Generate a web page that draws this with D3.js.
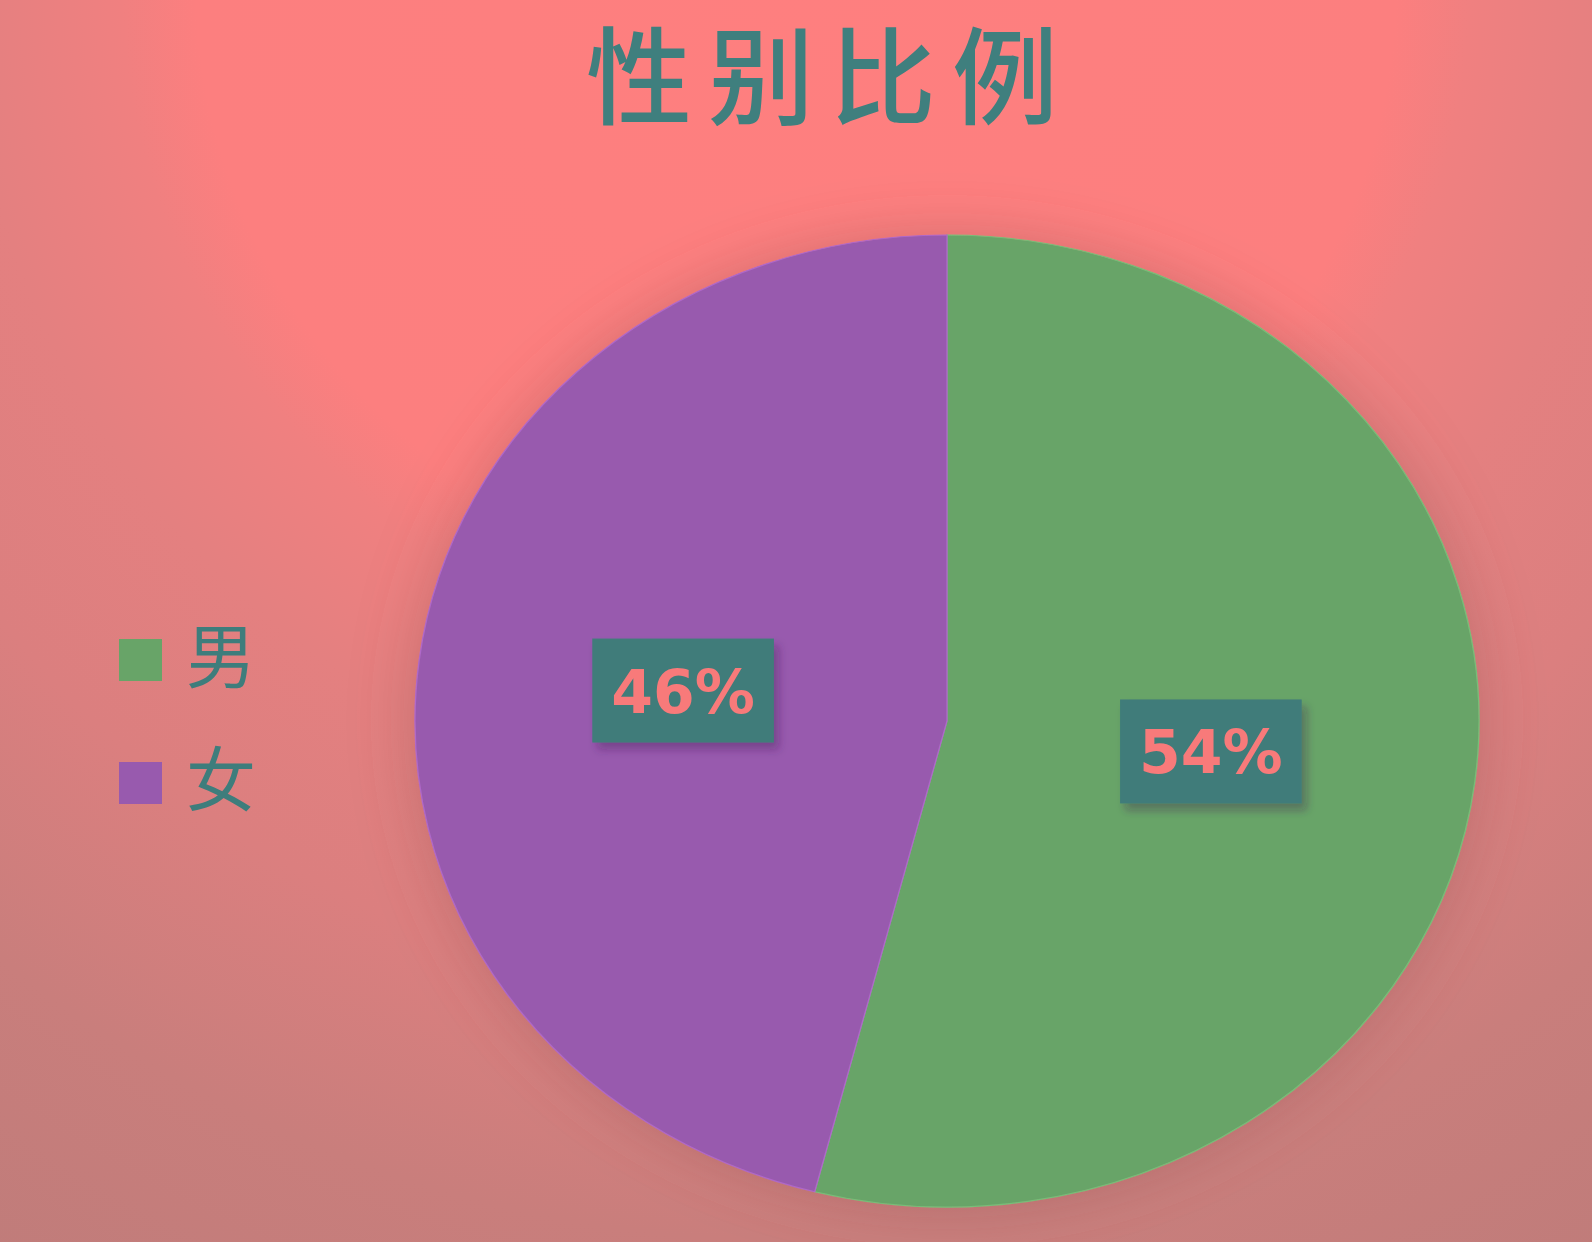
<!DOCTYPE html>
<html>
<head>
<meta charset="utf-8">
<script src="https://cdn.jsdelivr.net/npm/d3@7"></script>
<style>
  html, body { margin: 0; padding: 0; background: #e08080; }
  svg { display: block; }
</style>
</head>
<body>
<div id="chart"></div>
<script>
// chart data
const title = '性别比例';
const categories = ['男', '女'];
const values = [54, 46];
const colors = ['#68a468', '#985aae'];

const width = 1592, height = 1242;
const cx = 947, cy = 721;
const rx = 532, ry = 486; // pie is drawn a bit wider than tall

const svg = d3.select('#chart').append('svg')
    .attr('width', width)
    .attr('height', height);

const defs = svg.append('defs');

// background glow, bright at top middle
const bg = defs.append('radialGradient')
    .attr('id', 'bg')
    .attr('gradientUnits', 'userSpaceOnUse')
    .attr('cx', 796).attr('cy', -20).attr('r', 1500);
[[0, '#fe7f7f'], [0.40, '#fc7f7f'], [0.45, '#f08080'], [0.55, '#e48080'],
 [0.68, '#db7f7f'], [0.84, '#c97e7c'], [1, '#c07c7a']].forEach(s => {
  bg.append('stop').attr('offset', s[0]).attr('stop-color', s[1]);
});

// soft halo round the pie
const halo = defs.append('filter')
    .attr('id', 'halo')
    .attr('x', '-20%').attr('y', '-20%').attr('width', '140%').attr('height', '140%');
halo.append('feGaussianBlur').attr('in', 'SourceAlpha').attr('stdDeviation', 28).attr('result', 'b');
halo.append('feFlood').attr('flood-color', '#8a5050').attr('flood-opacity', 0.35);
halo.append('feComposite').attr('in2', 'b').attr('operator', 'in').attr('result', 's');
const hm = halo.append('feMerge');
hm.append('feMergeNode').attr('in', 's');
hm.append('feMergeNode').attr('in', 'SourceGraphic');

// small shadow under label boxes
const drop = defs.append('filter')
    .attr('id', 'drop')
    .attr('x', '-20%').attr('y', '-20%').attr('width', '150%').attr('height', '160%');
drop.append('feDropShadow')
    .attr('dx', 5).attr('dy', 7).attr('stdDeviation', 4)
    .attr('flood-color', '#3a2050').attr('flood-opacity', 0.35);

svg.append('rect')
    .attr('width', width).attr('height', height)
    .attr('fill', 'url(#bg)');

// title
svg.append('text')
    .attr('x', 830)
    .attr('y', 116)
    .attr('text-anchor', 'middle')
    .attr('font-family', '"Noto Sans CJK SC", sans-serif')
    .attr('font-weight', 500)
    .attr('font-size', 106)
    .attr('letter-spacing', 16)
    .attr('fill', '#3f7f7e')
    .text(title);

// pie
const pie = d3.pie().sort(null).value(d => d)(values);
const arc = d3.arc().innerRadius(0).outerRadius(ry);

const pieG = svg.append('g')
    .attr('transform', 'translate(' + cx + ',' + cy + ') scale(' + (rx / ry) + ',1)')
    .attr('filter', 'url(#halo)');

pieG.selectAll('path')
    .data(pie)
    .enter().append('path')
    .attr('d', arc)
    .attr('fill', (d, i) => colors[i])
    .attr('stroke', (d, i) => d3.color(colors[i]).brighter(0.4))
    .attr('stroke-width', 1.2);

// percentage labels in boxes
const labelG = svg.append('g').attr('transform', 'translate(' + cx + ',' + cy + ')');
const total = d3.sum(values);

pie.forEach((d, i) => {
  const c = arc.centroid(d);
  const x = c[0] * rx / ry, y = c[1];
  const g = labelG.append('g').attr('transform', 'translate(' + x + ',' + y + ')');
  const box = g.append('rect').attr('fill', '#3f7c7a').attr('filter', 'url(#drop)');
  const t = g.append('text')
      .attr('text-anchor', 'middle')
      .attr('y', 22)
      .attr('font-family', '"DejaVu Sans", sans-serif')
      .attr('font-weight', 700)
      .attr('font-size', 60)
      .attr('fill', '#f87a7a')
      .text(Math.round(values[i] / total * 100) + '%');
  const bb = t.node().getBBox();
  box.attr('x', -bb.width / 2 - 19).attr('y', -52)
     .attr('width', bb.width + 38).attr('height', 104);
});

// legend
const legend = svg.append('g').attr('transform', 'translate(119,0)');
categories.forEach((name, i) => {
  const y = 660 + i * 123;
  legend.append('rect')
      .attr('x', 0).attr('y', y - 21)
      .attr('width', 43).attr('height', 42)
      .attr('fill', colors[i]);
  legend.append('text')
      .attr('x', 67).attr('y', y + 23)
      .attr('font-family', '"Noto Sans CJK SC", sans-serif')
      .attr('font-size', 70)
      .attr('fill', '#3e7d7c')
      .text(name);
});
</script>
</body>
</html>
